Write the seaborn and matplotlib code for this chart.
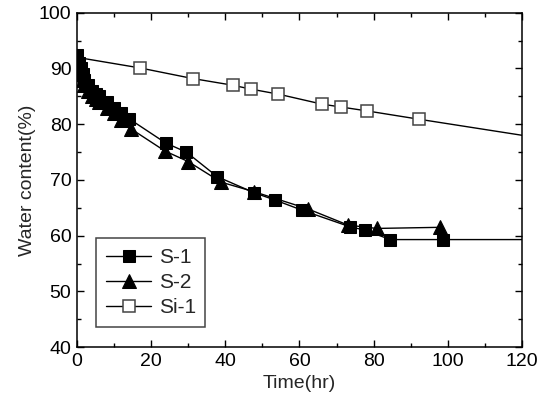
import numpy as np
import seaborn as sns
import matplotlib.pyplot as plt
from matplotlib.ticker import MultipleLocator

# ==================================================
# data
# ==================================================
s1_time = [0, 0.5, 1, 1.5, 2, 3, 4, 5, 6, 8, 10, 12, 14, 24, 29.5, 37.8,
           47.8, 53.4, 60.6, 73.6, 77.6, 84.5, 98.7, 125]
s1_water = [92.5, 91, 90, 89, 88, 87, 86, 85.5, 85, 84, 83, 82, 81, 76.6,
            75.0, 70.6, 67.7, 66.4, 64.6, 61.6, 61.0, 59.3, 59.3, 59.3]

s2_time = [0, 0.5, 1, 1.5, 2, 3, 4, 5, 6, 8, 10, 12, 14.5, 23.7, 30, 38.9,
           47.7, 62.3, 73.1, 80.8, 98]
s2_water = [92, 90, 89, 88, 87, 86, 85, 84.5, 84, 83, 82, 80.7, 79.2, 75.2,
            73.3, 69.6, 67.9, 64.8, 61.9, 61.3, 61.5]

si1_time = [0, 17.0, 31.2, 42.0, 46.9, 54.3, 66.1, 71.1, 78.1, 92.2, 125]
si1_water = [92, 90.1, 88.2, 87.0, 86.3, 85.4, 83.6, 83.1, 82.4, 80.9, 77.5]

# ==================================================
# style
# ==================================================
sns.set_theme(style="ticks")
plt.rcParams["font.family"] = ["Liberation Sans", "DejaVu Sans"]

fig = plt.figure(figsize=(5.42, 3.99), dpi=100)
ax = fig.add_axes([0.142, 0.130, 0.821, 0.838])

sns.lineplot(x=si1_time, y=si1_water, ax=ax, sort=False, estimator=None,
             color="black", linewidth=1, marker="s", markersize=8.5,
             markerfacecolor="white", markeredgecolor="#444444",
             markeredgewidth=1.1, label="Si-1", zorder=2)
sns.lineplot(x=s2_time, y=s2_water, ax=ax, sort=False, estimator=None,
             color="black", linewidth=1, marker="^", markersize=10,
             markeredgecolor="black", label="S-2", zorder=3)
sns.lineplot(x=s1_time, y=s1_water, ax=ax, sort=False, estimator=None,
             color="black", linewidth=1, marker="s", markersize=8.5,
             markeredgecolor="black", label="S-1", zorder=4)

ax.set_xlim(0, 120)
ax.set_ylim(40, 100)
ax.xaxis.set_major_locator(MultipleLocator(20))
ax.xaxis.set_minor_locator(MultipleLocator(10))
ax.yaxis.set_major_locator(MultipleLocator(10))
ax.yaxis.set_minor_locator(MultipleLocator(5))
ax.tick_params(which="both", direction="in", top=True, right=True,
               labelsize=14, colors="black", width=1)
ax.tick_params(which="major", length=5, pad=4)
ax.tick_params(which="minor", length=3)
for sp in ax.spines.values():
    sp.set_linewidth(1.1)
    sp.set_color("black")

ax.set_xlabel("Time(hr)", fontsize=14, labelpad=4)
ax.set_ylabel("Water content(%)", fontsize=14, labelpad=2)

# legend order S-1, S-2, Si-1
h, l = ax.get_legend_handles_labels()
order = [l.index("S-1"), l.index("S-2"), l.index("Si-1")]
leg = ax.legend([h[i] for i in order], [l[i] for i in order],
                loc="lower left", bbox_to_anchor=(0.02, 0.03),
                fontsize=15, handlelength=2.2, handletextpad=0.35,
                labelspacing=0.3, borderpad=0.45, fancybox=False,
                framealpha=1)
leg.get_frame().set_edgecolor("#444444")
leg.get_frame().set_linewidth(1.1)

plt.savefig("out.png", dpi=100)
plt.close()
